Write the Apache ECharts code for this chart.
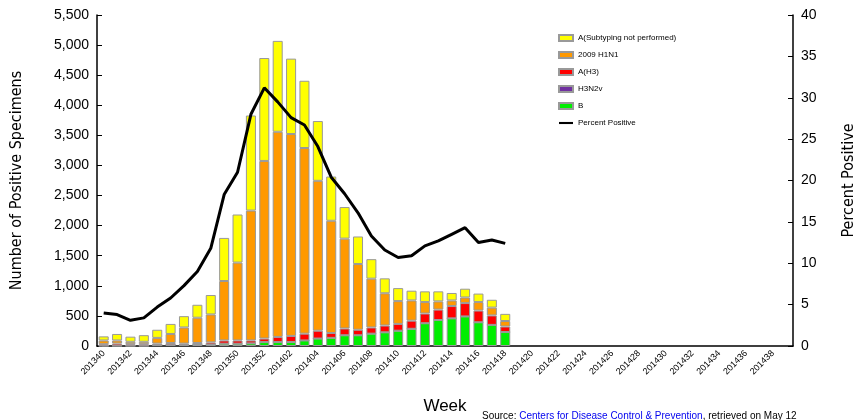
<!DOCTYPE html>
<html>
<head>
<meta charset="utf-8">
<script src="https://cdn.jsdelivr.net/npm/echarts@6/dist/echarts.min.js"></script>
<style>html,body{margin:0;padding:0;background:#fff}#c{width:865px;height:420px}</style>
</head>
<body>
<div id="c"></div>
<script>
// weeks 201340..201439
const weeks = [];
for (let w = 40; w <= 52; w++) weeks.push("2013" + w);
for (let w = 1; w <= 39; w++) weeks.push("2014" + String(w).padStart(2, "0"));

const fluB = [5, 5, 5, 5, 15, 20, 20, 30, 25, 38, 38, 43, 65, 65, 65, 92, 124, 135, 178, 178, 205, 227, 254, 286, 378, 432, 459, 491, 394, 351, 232];
const fluH3 = [25, 35, 25, 25, 25, 30, 20, 20, 35, 54, 54, 49, 59, 86, 102, 113, 130, 81, 113, 92, 103, 113, 113, 135, 162, 173, 205, 222, 195, 157, 92];
const fluH3N2v = new Array(31).fill(0);
const fluH1N1 = [62, 52, 40, 40, 95, 150, 268, 420, 464, 988, 1294, 2158, 2951, 3409, 3355, 3085, 2491, 1865, 1493, 1092, 811, 536, 379, 336, 190, 136, 93, 93, 141, 130, 91];
const fluNotSub = [68, 108, 85, 110, 135, 167, 188, 215, 323, 716, 799, 1580, 1710, 1510, 1253, 1117, 993, 735, 525, 458, 324, 248, 216, 162, 178, 167, 124, 146, 141, 130, 119];
const pctPositive = [4.0, 3.8, 3.1, 3.4, 4.7, 5.8, 7.3, 9.0, 11.8, 18.3, 21.0, 28.0, 31.2, 29.5, 27.6, 26.7, 24.1, 20.4, 18.4, 16.1, 13.3, 11.6, 10.7, 10.9, 12.1, 12.7, 13.5, 14.3, 12.5, 12.8, 12.4];

const chart = echarts.init(document.getElementById("c"));
const font = "Liberation Sans";
const nameFont = "'DejaVu Sans Condensed', 'Liberation Sans'";
const barStyle = (c) => ({ color: c, borderColor: "#999", borderWidth: 1 });

chart.setOption({
  animation: false,
  textStyle: { fontFamily: font },
  grid: { left: 97, right: 70, top: 15, bottom: 65 },
  legend: {
    orient: "vertical", left: 553, top: 29, itemGap: 9, itemWidth: 14, itemHeight: 6,
    textStyle: { fontSize: 8, color: "#000" },
    data: [
      { name: "A(Subtyping not performed)", icon: "rect" },
      { name: "2009 H1N1", icon: "rect" },
      { name: "A(H3)", icon: "rect" },
      { name: "H3N2v", icon: "rect" },
      { name: "B", icon: "rect" },
      { name: "Percent Positive", icon: "path://M0,0L20,0L20,3L0,3Z", itemStyle: { color: "#000" } }
    ]
  },
  xAxis: {
    type: "category", data: weeks,
    name: "Week", nameLocation: "middle", nameGap: 52,
    nameTextStyle: { fontSize: 17, color: "#000" },
    axisLine: { lineStyle: { color: "#000", width: 1.5 } },
    axisTick: { interval: 0, lineStyle: { color: "#000" } },
    axisLabel: { interval: 1, rotate: 45, fontSize: 9, color: "#000", margin: 6 }
  },
  yAxis: [
    {
      type: "value", min: 0, max: 5500, interval: 500,
      name: "Number of Positive Specimens", nameLocation: "middle", nameGap: 72,
      nameTextStyle: { fontSize: 16, color: "#000", fontFamily: nameFont },
      axisLine: { show: true, lineStyle: { color: "#000", width: 1.5 } },
      axisTick: { show: true, inside: true, lineStyle: { color: "#000" } },
      splitLine: { show: false },
      axisLabel: { fontSize: 14, color: "#000", formatter: (v) => v.toLocaleString("en-US") }
    },
    {
      type: "value", min: 0, max: 40, interval: 5,
      name: "Percent Positive", nameLocation: "middle", nameGap: 48,
      nameTextStyle: { fontSize: 16, color: "#000", fontFamily: nameFont },
      axisLine: { show: true, lineStyle: { color: "#000", width: 1.5 } },
      axisTick: { show: true, inside: true, lineStyle: { color: "#000" } },
      splitLine: { show: false },
      axisLabel: { fontSize: 14, color: "#000" }
    }
  ],
  series: [
    { name: "B", type: "bar", stack: "s", data: fluB, itemStyle: barStyle("#00ee00"), barCategoryGap: "25%" },
    { name: "H3N2v", type: "bar", stack: "s", data: fluH3N2v, itemStyle: barStyle("#7030a0") },
    { name: "A(H3)", type: "bar", stack: "s", data: fluH3, itemStyle: barStyle("#ff0000") },
    { name: "2009 H1N1", type: "bar", stack: "s", data: fluH1N1, itemStyle: barStyle("#ff9900") },
    { name: "A(Subtyping not performed)", type: "bar", stack: "s", data: fluNotSub, itemStyle: barStyle("#ffff00") },
    {
      name: "Percent Positive", type: "line", yAxisIndex: 1, data: pctPositive,
      symbol: "none", itemStyle: { color: "#000" }, lineStyle: { color: "#000", width: 3 }
    }
  ],
  graphic: [{
    type: "text", left: 482, top: 411,
    style: {
      rich: { b: { fill: "#0000ee", fontSize: 10 }, n: { fill: "#000", fontSize: 10 } },
      text: "{n|Source: }{b|Centers for Disease Control & Prevention}{n|, retrieved on May 12}"
    }
  }]
});
</script>
</body>
</html>
